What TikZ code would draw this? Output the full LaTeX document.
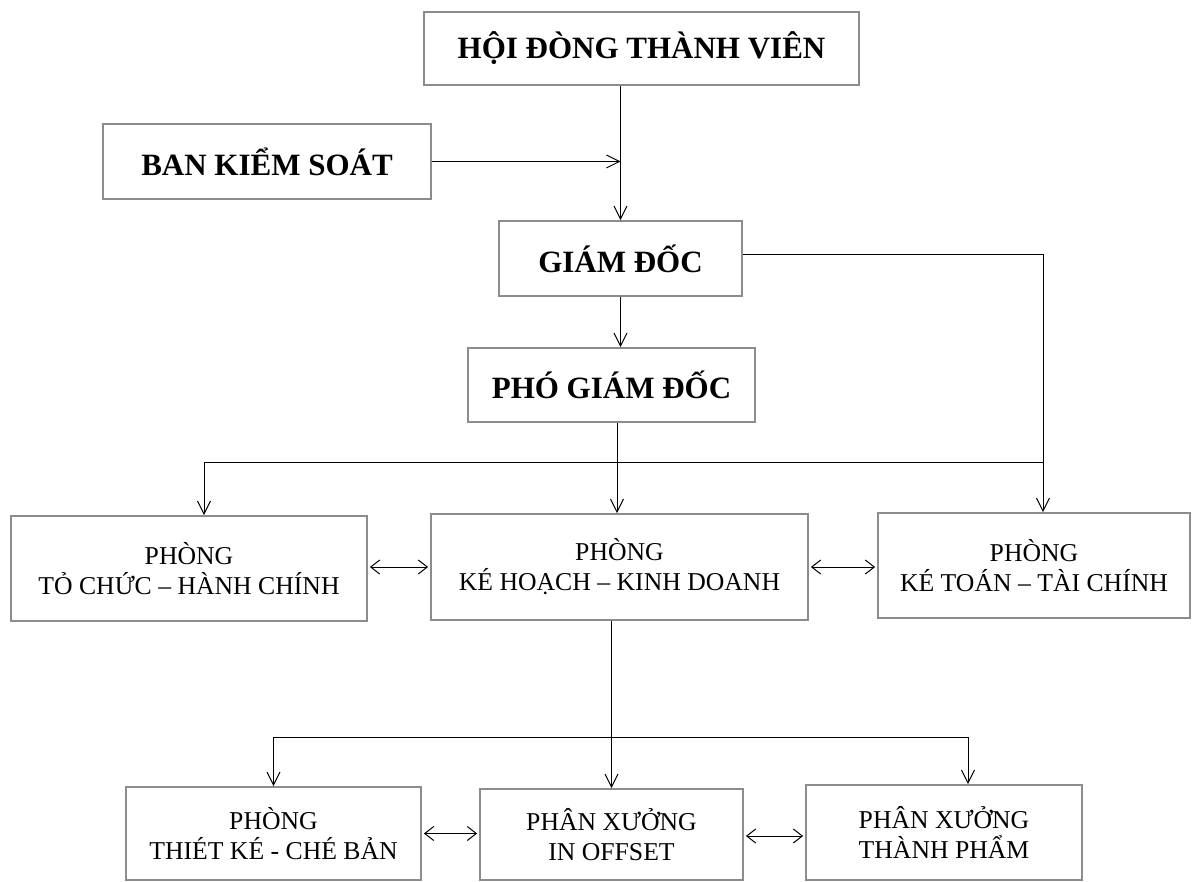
\documentclass[tikz,border=0pt]{standalone}
\usepackage{fontspec}
\setmainfont{Liberation Serif}
\usetikzlibrary{arrows.meta}
\begin{document}
\begin{tikzpicture}[x=1pt,y=-1pt,
  box/.style={draw=black!45,line width=1.8pt,rectangle,align=center,inner sep=0pt},
  topbox/.style={box,font=\fontsize{31}{35}\selectfont\bfseries},
  lowbox/.style={box,font=\fontsize{25.7}{30}\selectfont},
  link/.style={draw=black,line width=1pt},
  arr/.style={link,-{Straight Barb[length=13pt,width=13pt,line width=1pt]}},
  dbl/.style={link,{Straight Barb[length=9pt,width=14pt,line width=1pt]}-{Straight Barb[length=9pt,width=14pt,line width=1pt]},shorten <=2pt,shorten >=2pt}]
\useasboundingbox (0,0) rectangle (1195,882);
\clip (0,0) rectangle (1195,882);
\fill[white] (0,0) rectangle (1195,882);
% boxes
\node[topbox,minimum width=435pt,minimum height=73pt] (hdtv) at (641.5,48.5) {HỘI ĐÒNG THÀNH VIÊN};
\node[topbox,minimum width=328pt,minimum height=75pt] (bks) at (267,161.5) {BAN KIỂM SOÁT};
\node[topbox,minimum width=243pt,minimum height=75pt] (gd) at (620.5,258.5) {GIÁM ĐỐC};
\node[topbox,minimum width=287pt,minimum height=74pt] (pgd) at (611.5,385) {PHÓ GIÁM ĐỐC};
\node[lowbox,minimum width=356pt,minimum height=105pt] (tchc) at (189,568.5) {PHÒNG\\TỎ CHỨC – HÀNH CHÍNH};
\node[lowbox,minimum width=377pt,minimum height=106pt] (khkd) at (619.5,567) {PHÒNG\\KÉ HOẠCH – KINH DOANH};
\node[lowbox,minimum width=312pt,minimum height=105pt] (kt) at (1034,565.5) {PHÒNG\\KÉ TOÁN – TÀI CHÍNH};
\node[lowbox,minimum width=295pt,minimum height=93pt] (tkcb) at (273.5,833.5) {PHÒNG\\THIÉT KÉ - CHÉ BẢN};
\node[lowbox,minimum width=263pt,minimum height=91pt] (pxio) at (611.5,834.5) {PHÂN XƯỞNG\\IN OFFSET};
\node[lowbox,minimum width=276pt,minimum height=95pt] (pxtp) at (944,832.5) {PHÂN XƯỞNG\\THÀNH PHẨM};
% helper coordinates
\coordinate (ktin) at ([xshift=9pt]kt.north);
\coordinate (tchcin) at ([xshift=15pt]tchc.north);
\coordinate (khkdin) at ([xshift=-2.5pt]khkd.north);
\coordinate (busL) at (tchcin |- 0,463);
\coordinate (busR) at (ktin |- 0,463);
\coordinate (pxtpin) at ([xshift=24pt]pxtp.north);
\coordinate (bus2L) at (tkcb.north |- 0,737);
\coordinate (bus2R) at (pxtpin |- 0,737);
% connectors
\draw[arr] (gd.north |- hdtv.south) -- (gd.north);
\draw[arr] (bks.east) -- (bks.east -| gd.north);
\draw[arr] ([yshift=4pt]gd.east) -| (ktin);
\draw[arr] (gd.south) -- (gd.south |- pgd.north);
\draw[arr] (khkdin |- pgd.south) -- (khkdin);
\draw[link] (busL) -- (busR);
\draw[arr] (busL) -- (tchcin);
\draw[arr] (pxio.north |- khkd.south) -- (pxio.north);
\draw[link] (bus2L) -- (bus2R);
\draw[arr] (bus2L) -- (tkcb.north);
\draw[arr] (bus2R) -- (pxtpin);
\draw[dbl] ([yshift=1.5pt]tchc.east) -- ([yshift=1.5pt]tchc.east -| khkd.west);
\draw[dbl] (khkd.east) -- (khkd.east -| kt.west);
\draw[dbl] (tkcb.east) -- (tkcb.east -| pxio.west);
\draw[dbl] ([yshift=-1.5pt]pxio.east) -- ([yshift=-1.5pt]pxio.east -| pxtp.west);
\end{tikzpicture}
\end{document}
